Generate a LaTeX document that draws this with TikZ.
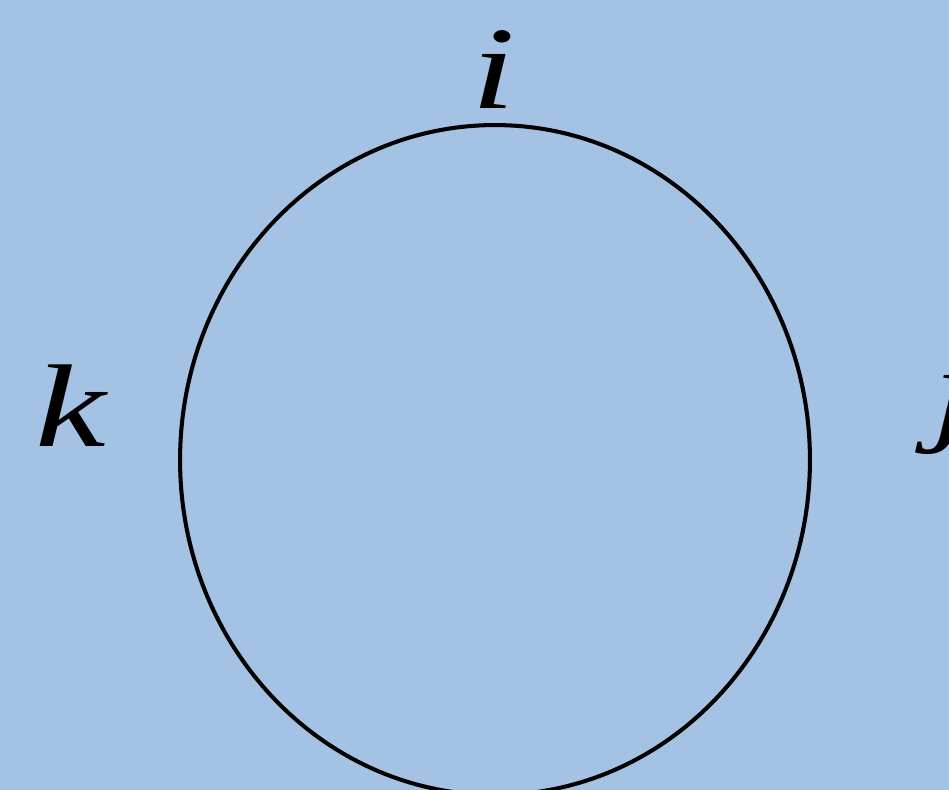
\documentclass[tikz,border=0pt]{standalone}
\usepackage{fontspec}
\setmainfont{Liberation Serif}
\usetikzlibrary{shapes.geometric}
\definecolor{bgblue}{RGB}{164,194,227}
\newcommand{\wide}[1]{\scalebox{1.35}[1]{#1}}
\tikzset{
  ring/.style={ellipse,draw=black,line width=2.3pt,minimum width=12.6cm,minimum height=13.4cm,inner sep=0pt},
  vtx/.style={inner sep=0pt,anchor=base,font=\fontsize{67}{70}\selectfont\itshape},
}
\begin{document}
\begin{tikzpicture}[x=0.02cm,y=-0.02cm]
% ---- background and frame
\fill[bgblue] (0,0) rectangle (949,790);
\useasboundingbox (0,0) rectangle (949,790);
% ---- loop with its three labels
\node[ring] (loop) at (495,460) {};
\node[vtx] (i) at (494,109) {\wide{i}};
\node[vtx] (k) at (71,446) {\wide{k}};
\node[vtx,anchor=base west] (j) at (932,429) {\wide{j}};
\end{tikzpicture}
\end{document}
